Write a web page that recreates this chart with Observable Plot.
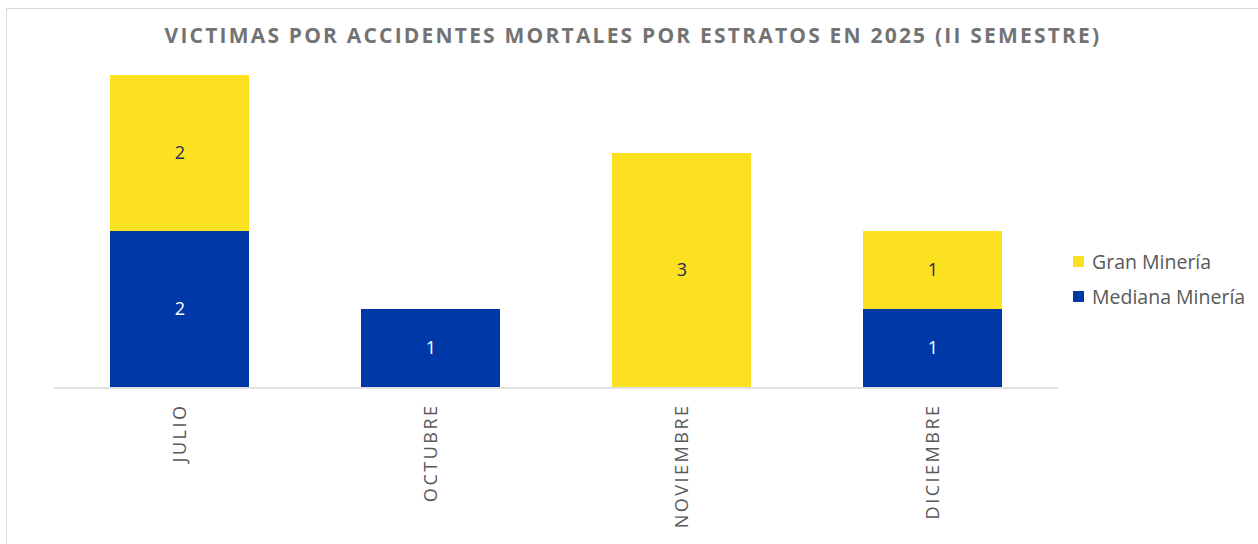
<!DOCTYPE html>
<html>
<head>
<meta charset="utf-8">
<script src="https://cdn.jsdelivr.net/npm/d3@7"></script>
<script src="https://cdn.jsdelivr.net/npm/@observablehq/plot@0.6"></script>
<style>
  html, body { margin: 0; padding: 0; background: #fff; }
  #wrap { position: relative; width: 1258px; height: 544px; overflow: hidden; font-family: "Open Sans", sans-serif; }
  #frame { position: absolute; left: 6px; top: 8px; width: 1270px; height: 560px; border: 1.5px solid #d9d9d9; box-sizing: border-box; }
  #title { position: absolute; left: 4px; top: 21px; width: 1258px; text-align: center; font-size: 21px; font-weight: 700; color: #737373; letter-spacing: 2.2px; white-space: nowrap; }
  #chart { position: absolute; left: 0; top: 60px; }
  #legend { position: absolute; left: 1073px; top: 244px; font-size: 19.5px; color: #595959; }
  #legend .item { display: flex; align-items: center; height: 35px; }
  #legend .sw { width: 11px; height: 11px; margin-right: 8px; }
  .chart g[aria-label="x-axis tick label"] text { letter-spacing: 2.5px; }
</style>
</head>
<body>
<div id="wrap">
  <div id="frame"></div>
  <div id="title"></div>
  <div id="chart"></div>
  <div id="legend"></div>
</div>
<script>
const titleText = "VICTIMAS POR ACCIDENTES MORTALES POR ESTRATOS EN 2025 (II SEMESTRE)";
const months = ["JULIO", "OCTUBRE", "NOVIEMBRE", "DICIEMBRE"];
const series = ["Mediana Minería", "Gran Minería"];
const medianaValues = [2, 1, 0, 1];
const granValues = [2, 0, 3, 1];
const colors = ["#0038A8", "#FCE120"];
const labelColors = ["#ffffff", "#1F2A52"];
const legendOrder = ["Gran Minería", "Mediana Minería"];

const data = [];
months.forEach((m, i) => {
  if (medianaValues[i] > 0) data.push({month: m, estrato: series[0], value: medianaValues[i]});
  if (granValues[i] > 0) data.push({month: m, estrato: series[1], value: granValues[i]});
});

document.getElementById("title").textContent = titleText;

const plot = Plot.plot({
  width: 1258,
  height: 484,
  marginLeft: 54,
  marginRight: 200,
  marginTop: 15,
  marginBottom: 157,
  className: "chart",
  style: {fontFamily: "'Open Sans', sans-serif", background: "transparent"},
  x: {domain: months, paddingInner: 0.446, paddingOuter: 0.223, label: null},
  y: {domain: [0, 4], axis: null},
  color: {domain: series, range: colors},
  marks: [
    Plot.barY(data, Plot.stackY({x: "month", y: "value", fill: "estrato", order: series})),
    Plot.ruleY([0], {stroke: "#d9d9d9", strokeWidth: 1.5, dy: 0.5}),
    Plot.text(data, Plot.stackY({x: "month", y: "value", z: "estrato", order: series, text: d => String(d.value),
      fill: d => d.estrato === series[0] ? labelColors[0] : labelColors[1], fontSize: 18})),
    Plot.axisX({tickRotate: -90, tickSize: 0, tickPadding: 16, fontSize: 18, fill: "#595959", label: null})
  ]
});
document.getElementById("chart").appendChild(plot);

const legend = document.getElementById("legend");
legendOrder.forEach(name => {
  const item = document.createElement("div");
  item.className = "item";
  const sw = document.createElement("span");
  sw.className = "sw";
  sw.style.background = colors[series.indexOf(name)];
  const lab = document.createElement("span");
  lab.textContent = name;
  item.appendChild(sw);
  item.appendChild(lab);
  legend.appendChild(item);
});
</script>
</body>
</html>
